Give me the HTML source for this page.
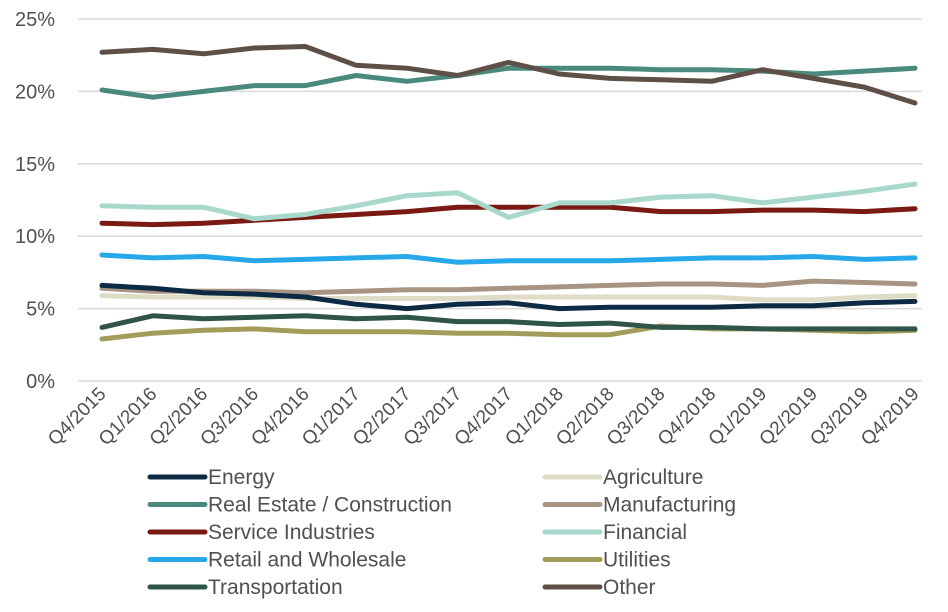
<!DOCTYPE html>
<html><head><meta charset="utf-8"><style>
body{margin:0;background:#fff;}
svg{display:block;font-family:"Liberation Sans",sans-serif;}
</style></head><body>
<svg id="c" width="948" height="612"></svg>
<script>
const categories=["Q4/2015","Q1/2016","Q2/2016","Q3/2016","Q4/2016","Q1/2017","Q2/2017","Q3/2017","Q4/2017","Q1/2018","Q2/2018","Q3/2018","Q4/2018","Q1/2019","Q2/2019","Q3/2019","Q4/2019"];
const yTicks=[0,5,10,15,20,25];
const seriesNames=["Energy","Agriculture","Real Estate / Construction","Manufacturing","Service Industries","Financial","Retail and Wholesale","Utilities","Transportation","Other"];
const energy=[6.6,6.4,6.1,6.0,5.8,5.3,5.0,5.3,5.4,5.0,5.1,5.1,5.1,5.2,5.2,5.4,5.5];
const agriculture=[5.9,5.8,5.8,5.8,5.7,5.7,5.7,5.7,5.8,5.8,5.8,5.8,5.8,5.6,5.6,5.8,5.9];
const realEstate=[20.1,19.6,20.0,20.4,20.4,21.1,20.7,21.1,21.6,21.6,21.6,21.5,21.5,21.4,21.2,21.4,21.6];
const manufacturing=[6.4,6.2,6.2,6.2,6.1,6.2,6.3,6.3,6.4,6.5,6.6,6.7,6.7,6.6,6.9,6.8,6.7];
const service=[10.9,10.8,10.9,11.1,11.3,11.5,11.7,12.0,12.0,12.0,12.0,11.7,11.7,11.8,11.8,11.7,11.9];
const financial=[12.1,12.0,12.0,11.2,11.5,12.1,12.8,13.0,11.3,12.3,12.3,12.7,12.8,12.3,12.7,13.1,13.6];
const retail=[8.7,8.5,8.6,8.3,8.4,8.5,8.6,8.2,8.3,8.3,8.3,8.4,8.5,8.5,8.6,8.4,8.5];
const utilities=[2.9,3.3,3.5,3.6,3.4,3.4,3.4,3.3,3.3,3.2,3.2,3.8,3.6,3.6,3.5,3.4,3.5];
const transportation=[3.7,4.5,4.3,4.4,4.5,4.3,4.4,4.1,4.1,3.9,4.0,3.7,3.7,3.6,3.6,3.6,3.6];
const other=[22.7,22.9,22.6,23.0,23.1,21.8,21.6,21.1,22.0,21.2,20.9,20.8,20.7,21.5,20.9,20.3,19.2];

const colors=["#0d2a45","#dedcc6","#4a8a7c","#a89482","#7a1a12","#a8d8cc","#27a8e8","#a39b5a","#2f5449","#5e5047"];
const data=[energy,agriculture,realEstate,manufacturing,service,financial,retail,utilities,transportation,other];
const drawOrder=[1,3,0,7,8,6,4,5,2,9];
const svg=document.getElementById('c');
const NS="http://www.w3.org/2000/svg";
const x0=102,x1=915,y0=381,y25=19;
const X=i=>x0+(x1-x0)*i/(categories.length-1);
const Y=v=>y0-(y0-y25)*v/25;
function mk(t,a){const e=document.createElementNS(NS,t);for(const k in a)e.setAttribute(k,a[k]);svg.appendChild(e);return e;}
yTicks.forEach(t=>{
  const g=mk('line',{x1:78,x2:922,y1:Y(t),y2:Y(t),stroke:'#d9d9d9','stroke-width':1.5});
  
  
  const l=mk('text',{x:55,y:Y(t)+7,'text-anchor':'end','font-size':20,fill:'#505050'});
  l.textContent=t+'%';
  
  
});
categories.forEach((c,i)=>{
  const t=mk('text',{x:X(i)+5,y:395,'text-anchor':'end','font-size':19,fill:'#505050',transform:`rotate(-45 ${X(i)+5} 395)`});
  t.textContent=c;
  
  
});
drawOrder.forEach(s=>{
  const d=data[s].map((v,i)=>(i?'L':'M')+X(i).toFixed(1)+' '+Y(v).toFixed(1)).join(' ');
  const p=mk('path',{d:d,fill:'none',stroke:colors[s],'stroke-width':5,'stroke-linecap':'round','stroke-linejoin':'round'});
  
  
});
seriesNames.forEach((n,s)=>{
  const col=s%2, row=Math.floor(s/2);
  const lx=col?545:150, ly=477+row*27.5;
  const ln=mk('line',{x1:lx,x2:lx+55,y1:ly,y2:ly,stroke:colors[s],'stroke-width':5,'stroke-linecap':'round'});
  
  
  const t=mk('text',{x:lx+58,y:ly+7,'font-size':21,fill:'#505050'});
  t.textContent=n;
  
  
});
</script>
</body></html>
